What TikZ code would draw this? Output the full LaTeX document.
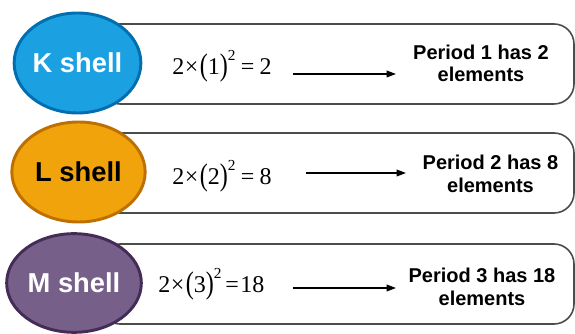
\documentclass[tikz,border=0pt]{standalone}
\usepackage{fontspec}
\usepackage{graphicx}
\setmainfont{Liberation Sans}
\newfontfamily\frmfont{Liberation Serif}
\usetikzlibrary{arrows.meta,shapes.geometric}
\definecolor{kfill}{HTML}{1BA1E2}\definecolor{kdraw}{HTML}{006EAF}
\definecolor{lfill}{HTML}{F0A30A}\definecolor{ldraw}{HTML}{BD7000}
\definecolor{mfill}{HTML}{76608A}\definecolor{mdraw}{HTML}{432D57}
\newcommand\bigpar[1]{\raisebox{-0.04em}{\scalebox{1}[1.3]{#1}}}
\newcommand\frm[2]{{\frmfont\fontsize{18}{21}\selectfont 2\kern0.5pt×\kern1pt\bigpar{(}#1\bigpar{)}\raisebox{0.6em}{\fontsize{11.5}{12}\selectfont 2}#2}}
\begin{document}
\begin{tikzpicture}[x=0.75pt,y=-0.75pt,
  rowbox/.style={draw=black!70,line width=1.2pt,rounded corners=15pt,fill=white,
    minimum width=355.5pt,minimum height=60pt,inner sep=0pt},
  shell/.style={ellipse,line width=2.2pt,inner sep=0pt,
    font=\fontsize{20.5}{24}\selectfont\bfseries},
  frmnode/.style={anchor=base west,inner sep=0pt},
  pertext/.style={align=center,inner sep=0pt,
    font=\fontsize{15}{16.8}\selectfont\bfseries},
  conn/.style={line width=1pt,-{Triangle[length=7pt,width=5pt]}}]
\useasboundingbox (0,0) rectangle (575,334);
% boxes
\node[rowbox] (b1) at (337,64) {};
\node[rowbox] (b2) at (337,173) {};
\node[rowbox] (b3) at (337,284) {};
% shells
\node[shell,fill=kfill,draw=kdraw,text=white,minimum width=94pt,minimum height=75pt] (k) at (77.5,63) {K shell};
\node[shell,fill=lfill,draw=ldraw,text=black,minimum width=100pt,minimum height=75pt] (l) at (78.5,172) {L shell};
\node[shell,fill=mfill,draw=mdraw,text=white,minimum width=101pt,minimum height=74pt] (m) at (74,283) {M shell};
% formulas
\node[frmnode] (f1) at (172,75) {\frm{1}{\kern4pt=\kern4pt2}};
\node[frmnode] (f2) at (172,185) {\frm{2}{\kern4pt=\kern4pt8}};
\node[frmnode] (f3) at (158,293) {\frm{3}{\kern3pt=\kern1pt18}};
% texts
\node[pertext] (p1) at (481,63.5) {Period 1 has 2\\elements};
\node[pertext] (p2) at (490.5,174) {Period 2 has 8\\elements};
\node[pertext] (p3) at (482,287) {Period 3 has 18\\elements};
% arrows
\coordinate (a1s) at (293,74); \coordinate (a1e) at (396,74);
\coordinate (a2s) at (306,173); \coordinate (a2e) at (406,173);
\coordinate (a3s) at (293,288); \coordinate (a3e) at (396,288);
\draw[conn] (a1s) -- (a1e);
\draw[conn] (a2s) -- (a2e);
\draw[conn] (a3s) -- (a3e);
\end{tikzpicture}
\end{document}
